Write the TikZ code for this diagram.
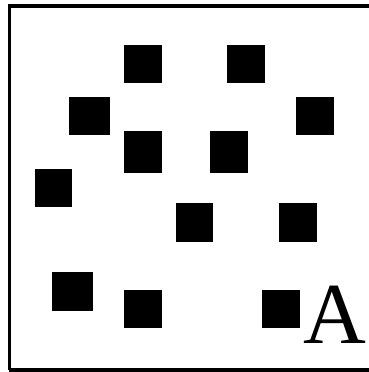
\documentclass[tikz,border=0pt]{standalone}
\usepackage{fontspec}
\setmainfont{Liberation Serif}
\usetikzlibrary{positioning}

\begin{document}
\begin{tikzpicture}[x=1pt, y=1pt, every node/.style={inner sep=0pt, outer sep=0pt}, sq/.style={fill=black, minimum width=38pt, minimum height=38pt}, frame/.style={draw=black, line width=3.5pt}]
\useasboundingbox (0,0) rectangle (369,372);
\clip (0,0) rectangle (369,372);
\draw[frame] (9.3,2) -- (9.3,366.2) -- (380,366.2) (9.3,2) -- (380,2);
\node[sq] (s1) at (143,308) {};
\node[sq, minimum width=41pt] (s2) at (89.5,256) {};
\node[sq, minimum height=42pt] (s3) at (143,220) {};
\node[sq, minimum width=37pt] (s4) at (53.5,184) {};
\node[sq] (s5) at (246,308) {};
\node[sq] (s6) at (315,256) {};
\node[sq, minimum height=42pt] (s7) at (229,220) {};
\node[sq, minimum width=37pt, minimum height=39pt] (s8) at (194.5,149.5) {};
\node[sq, minimum width=41pt, minimum height=39pt] (s9) at (72.5,80.5) {};
\node[sq] (s10) at (143,63) {};
\node[sq, minimum height=39pt] (s11) at (298,149.5) {};
\node[sq] (s12) at (281,63) {};
\node[anchor=base west, font=\fontsize{87}{87}\selectfont] (lbl) at (303,28.3) {A};
\end{tikzpicture}
\end{document}
